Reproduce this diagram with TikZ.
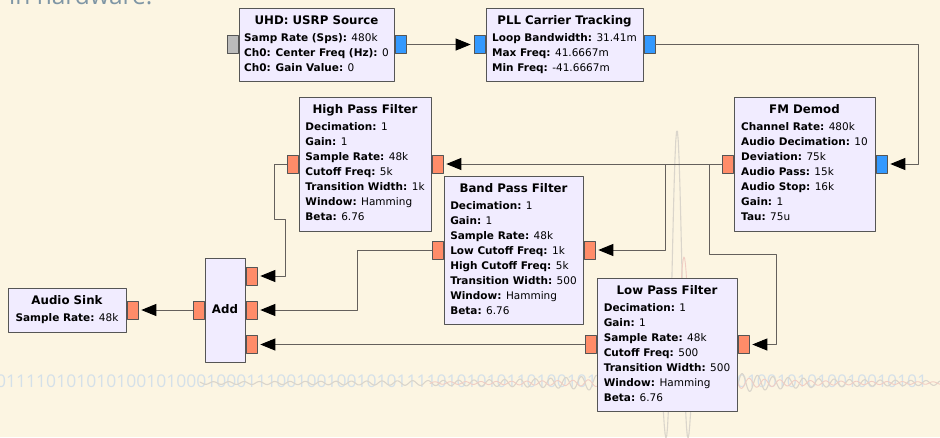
\documentclass[tikz,border=0pt]{standalone}
\usepackage{fontspec}
\setmainfont{DejaVu Sans}
\newfontfamily\slidefont{Open Sans}
\usetikzlibrary{arrows.meta}
\usetikzlibrary{positioning}

\definecolor{slidebg}{RGB}{252,245,226}
\definecolor{blockfill}{RGB}{241,236,255}
\definecolor{blockline}{RGB}{85,85,85}
\definecolor{cplxport}{RGB}{51,153,255}
\definecolor{fltport}{RGB}{255,140,105}
\definecolor{msgport}{RGB}{187,187,187}
\definecolor{wireline}{RGB}{100,96,92}
\definecolor{hwtext}{RGB}{127,150,165}
\definecolor{bitsblue}{RGB}{212,224,233}
\definecolor{sincgray}{RGB}{218,213,203}
\definecolor{sincpink}{RGB}{240,205,195}

\newcommand{\blocktitle}[1]{\multicolumn{1}{@{}c@{}}{\fontsize{11.8}{15}\selectfont\bfseries #1}}

\begin{document}
\begin{tikzpicture}[x=1pt, y=-1pt, line cap=round, line join=round, >={Triangle[length=15pt,width=12pt,color=black]},
	block/.style={draw=blockline, fill=blockfill, line width=1pt, inner sep=0pt, font=\fontsize{10.5}{15}\selectfont},
	port/.style={draw=blockline, line width=0.8pt, minimum width=11pt, minimum height=18pt, inner sep=0pt},
	wire/.style={draw=wireline, line width=0.9pt, ->, shorten >=3pt}]
			\useasboundingbox (0,0) rectangle (940,437);
			\clip (0,0) rectangle (940,437);
			% background
			\fill[slidebg] (0,0) rectangle (940,437);
			\node[anchor=base west, inner sep=0pt, text=hwtext, font=\slidefont\fontsize{24.5}{28}\selectfont] (hwnote) at (9,4) {in hardware.};
			\node[anchor=west, inner sep=0pt, text=bitsblue, font=\slidefont\fontsize{17.5}{20}\selectfont] (bits) at (-4,381) {011110101010100101000100011100100100101011110101010110100101101001001010100100101010010010101};
			\draw[sincgray, line width=1.1pt] plot[domain=200:940, samples=900] (\x, {383 - 253*sin(deg(0.41*(\x-677.01)))/(0.41*(\x-677.01))});
			\draw[sincpink, line width=0.9pt] plot[domain=430:940, samples=700] (\x, {383 - 126*sin(deg(0.41*(\x-684.01)))/(0.41*(\x-684.01))});
			% blocks
			\node[block, minimum width=155pt, minimum height=73pt] (usrp) at (316.5,44.5) {\begin{tabular}{@{}l@{}}\blocktitle{UHD: USRP Source}\\[2pt]
				\textbf{Samp Rate (Sps):} 480k\\
				\textbf{Ch0: Center Freq (Hz):} 0\\
				\textbf{Ch0: Gain Value:} 0\end{tabular}};
			\node[block, minimum width=157pt, minimum height=73pt] (pll) at (564.5,44.5) {\begin{tabular}{@{}l@{}}\blocktitle{PLL Carrier Tracking}\\[2pt]
				\textbf{Loop Bandwidth:} 31.41m\\
				\textbf{Max Freq:} 41.6667m\\
				\textbf{Min Freq:} -41.6667m\end{tabular}};
			\node[block, minimum width=141pt, minimum height=134pt] (fm) at (804.5,164) {\begin{tabular}{@{}l@{}}\blocktitle{FM Demod}\\[2pt]
				\textbf{Channel Rate:} 480k\\
				\textbf{Audio Decimation:} 10\\
				\textbf{Deviation:} 75k\\
				\textbf{Audio Pass:} 15k\\
				\textbf{Audio Stop:} 16k\\
				\textbf{Gain:} 1\\
				\textbf{Tau:} 75u\end{tabular}};
			\node[block, minimum width=132pt, minimum height=134pt] (hpf) at (365,164) {\begin{tabular}{@{}l@{}}\blocktitle{High Pass Filter}\\[2pt]
				\textbf{Decimation:} 1\\
				\textbf{Gain:} 1\\
				\textbf{Sample Rate:} 48k\\
				\textbf{Cutoff Freq:} 5k\\
				\textbf{Transition Width:} 1k\\
				\textbf{Window:} Hamming\\
				\textbf{Beta:} 6.76\end{tabular}};
			\node[block, minimum width=139pt, minimum height=148pt] (bpf) at (513.5,250) {\begin{tabular}{@{}l@{}}\blocktitle{Band Pass Filter}\\[2pt]
				\textbf{Decimation:} 1\\
				\textbf{Gain:} 1\\
				\textbf{Sample Rate:} 48k\\
				\textbf{Low Cutoff Freq:} 1k\\
				\textbf{High Cutoff Freq:} 5k\\
				\textbf{Transition Width:} 500\\
				\textbf{Window:} Hamming\\
				\textbf{Beta:} 6.76\end{tabular}};
			\node[block, minimum width=140pt, minimum height=133pt] (lpf) at (667,344.5) {\begin{tabular}{@{}l@{}}\blocktitle{Low Pass Filter}\\[2pt]
				\textbf{Decimation:} 1\\
				\textbf{Gain:} 1\\
				\textbf{Sample Rate:} 48k\\
				\textbf{Cutoff Freq:} 500\\
				\textbf{Transition Width:} 500\\
				\textbf{Window:} Hamming\\
				\textbf{Beta:} 6.76\end{tabular}};
			\node[block, minimum width=40pt, minimum height=104pt] (add) at (225,310) {\begin{tabular}{@{}l@{}}\blocktitle{Add}\end{tabular}};
			\node[block, minimum width=118pt, minimum height=44pt] (sink) at (67,310) {\begin{tabular}{@{}l@{}}\blocktitle{Audio Sink}\\[2pt]
				\textbf{Sample Rate:} 48k\end{tabular}};
			% ports
			\node[port, fill=msgport, left=0pt of usrp] (usrp-in) {};
			\node[port, fill=cplxport, right=0pt of usrp] (usrp-out) {};
			\node[port, fill=cplxport, left=0pt of pll] (pll-in) {};
			\node[port, fill=cplxport, right=0pt of pll] (pll-out) {};
			\node[port, fill=cplxport, right=0pt of fm] (fm-in) {};
			\node[port, fill=fltport, left=0pt of fm] (fm-out) {};
			\node[port, fill=fltport, right=0pt of hpf] (hpf-in) {};
			\node[port, fill=fltport, left=0pt of hpf] (hpf-out) {};
			\node[port, fill=fltport, right=0pt of bpf] (bpf-in) {};
			\node[port, fill=fltport, left=0pt of bpf] (bpf-out) {};
			\node[port, fill=fltport, right=0pt of lpf] (lpf-in) {};
			\node[port, fill=fltport, left=0pt of lpf] (lpf-out) {};
			\node[port, fill=fltport, right=0pt of add, yshift=34pt] (add-in1) {};
			\node[port, fill=fltport, right=0pt of add] (add-in2) {};
			\node[port, fill=fltport, right=0pt of add, yshift=-34.5pt] (add-in3) {};
			\node[port, fill=fltport, left=0pt of add] (add-out) {};
			\node[port, fill=fltport, right=0pt of sink] (sink-in) {};
			% connections
			\draw[wire] (usrp-out.east) -- (pll-in.west);
			\draw[wire] (pll-out.east) -- ++(263,0) |- (fm-in.east);
			\draw[wire] (fm-out.west) -- (hpf-in.east);
			\draw[wire] (fm-out.west) -- ++(-56,0) |- (bpf-in.east);
			\draw[wire] (fm-out.west) -- ++(-12,0) -- ++(0,90) -- ++(67,0) |- (lpf-in.east);
			\draw[wire] (hpf-out.west) -- ++(-12,0) -- ++(0,55) -- ++(11,0) |- (add-in1.east);
			\draw[wire] (bpf-out.west) -- ++(-74,0) |- (add-in2.east);
			\draw[wire] (lpf-out.west) -- (add-in3.east);
			\draw[wire] (add-out.west) -- (sink-in.east);
		\end{tikzpicture}
\end{document}
